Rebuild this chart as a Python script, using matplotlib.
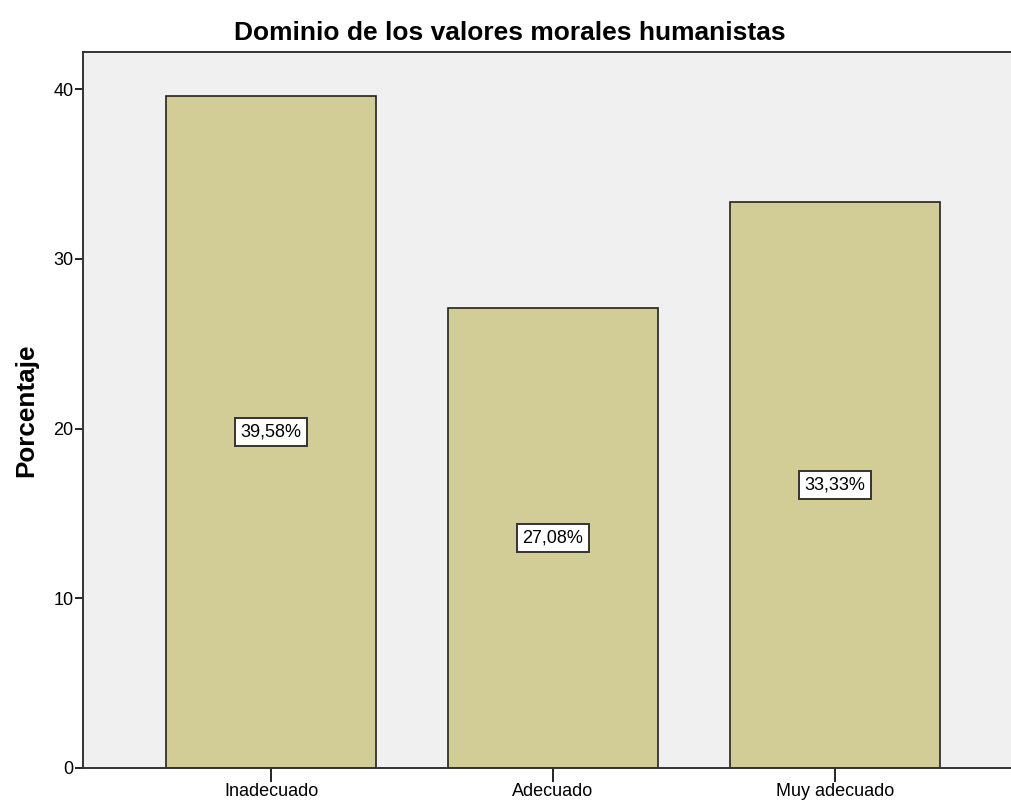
import matplotlib.pyplot as plt

plt.rcParams['font.family'] = ['Liberation Sans', 'DejaVu Sans']

categorias = ['Inadecuado', 'Adecuado', 'Muy adecuado']
porcentajes = [39.58, 27.08, 33.33]
etiquetas = ['39,58%', '27,08%', '33,33%']

fig = plt.figure(figsize=(10.11, 8.01), dpi=100)
# el area del grafico se sale un poco por la derecha, como en el original
ax = fig.add_axes([83 / 1011, 1 - 768 / 801, 940 / 1011, 716 / 801])
ax.set_facecolor('#f0f0f0')

x = range(len(categorias))
ax.bar(x, porcentajes, width=0.745, color='#d2cd97', edgecolor='#222222', linewidth=1.2, zorder=2)

for xi, val, txt in zip(x, porcentajes, etiquetas):
    ax.text(xi, val / 2, txt, ha='center', va='center', fontsize=13, zorder=3,
            bbox=dict(boxstyle='square,pad=0.3', facecolor='white', edgecolor='#333333', linewidth=1.4))

ax.set_xlim(-0.667, 2.667)
ax.set_ylim(0, 42.18)
ax.set_yticks([0, 10, 20, 30, 40])
ax.set_xticks(list(x))
ax.set_xticklabels(categorias, fontsize=13)
ax.tick_params(axis='y', labelsize=13, length=6, width=1.2, pad=1)
ax.tick_params(axis='x', length=10, width=1.2, pad=1)

for lado in ['left', 'bottom', 'top']:
    ax.spines[lado].set_linewidth(1.4)
    ax.spines[lado].set_color('#333333')
ax.spines['right'].set_visible(False)

ax.set_ylabel('Porcentaje', fontsize=18.8, fontweight='bold', labelpad=11)
ax.set_title('Dominio de los valores morales humanistas', fontsize=19, fontweight='bold',
             pad=9, x=(510 - 83) / 940)

fig.savefig('out.png', dpi=100)
